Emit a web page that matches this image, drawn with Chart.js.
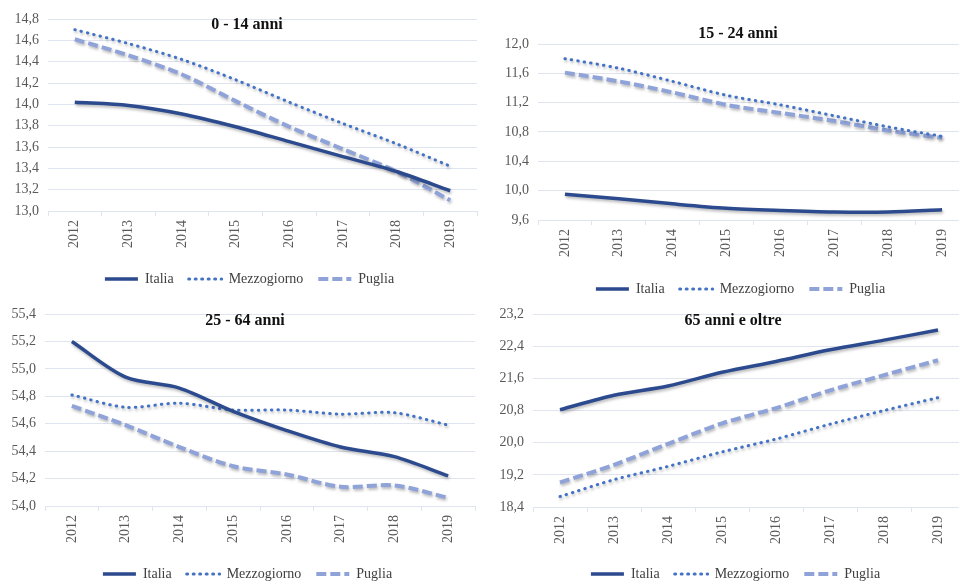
<!DOCTYPE html>
<html>
<head>
<meta charset="utf-8">
<script src="https://cdn.jsdelivr.net/npm/chart.js@4"></script>
<style>
  html, body { margin: 0; padding: 0; background: #fff; width: 959px; height: 582px; overflow: hidden; }
  .panel { position: absolute; }
</style>
</head>
<body>
<canvas id="c014" class="panel" style="left:0;top:0" width="480" height="296"></canvas>
<canvas id="c1524" class="panel" style="left:480px;top:0" width="489" height="306"></canvas>
<canvas id="c2564" class="panel" style="left:0;top:290px" width="480" height="301"></canvas>
<canvas id="c65" class="panel" style="left:480px;top:290px" width="485" height="301"></canvas>
<script>
const anni = ['2012', '2013', '2014', '2015', '2016', '2017', '2018', '2019'];
const serie = ['Italia', 'Mezzogiorno', 'Puglia'];

// 0 - 14 anni
const italia014 = [14.02, 13.99, 13.91, 13.79, 13.65, 13.51, 13.37, 13.19];
const mezzo014 = [14.70, 14.57, 14.42, 14.23, 14.02, 13.82, 13.63, 13.42];
const puglia014 = [14.61, 14.46, 14.28, 14.03, 13.79, 13.58, 13.37, 13.10];

// 15 - 24 anni
const italia1524 = [9.95, 9.89, 9.82, 9.76, 9.73, 9.71, 9.71, 9.74];
const mezzo1524 = [11.80, 11.67, 11.49, 11.30, 11.17, 11.02, 10.87, 10.74];
const puglia1524 = [11.61, 11.49, 11.34, 11.17, 11.06, 10.95, 10.82, 10.72];

// 25 - 64 anni
const italia2564 = [55.20, 54.94, 54.86, 54.69, 54.55, 54.43, 54.36, 54.22];
const mezzo2564 = [54.81, 54.72, 54.75, 54.70, 54.70, 54.67, 54.68, 54.59];
const puglia2564 = [54.73, 54.59, 54.43, 54.29, 54.23, 54.14, 54.15, 54.06];

// 65 anni e oltre
const italia65 = [20.82, 21.18, 21.41, 21.75, 22.02, 22.31, 22.55, 22.80];
const mezzo65 = [18.66, 19.08, 19.41, 19.77, 20.09, 20.46, 20.80, 21.12];
const puglia65 = [19.01, 19.45, 19.97, 20.48, 20.86, 21.30, 21.68, 22.05];

const FONT = "'Liberation Serif', 'DejaVu Serif', serif";
const GRID = '#dfe4ef';

// titolo disegnato dentro l'area del grafico, come nell'originale
const panelTitle = {
  id: 'panelTitle',
  afterDraw(chart, args, opts) {
    const ctx = chart.ctx;
    ctx.save();
    ctx.font = 'bold 16px ' + FONT;
    ctx.fillStyle = '#111';
    ctx.textAlign = 'center';
    ctx.textBaseline = 'middle';
    ctx.fillText(opts.text, opts.x, opts.y);
    ctx.restore();
  }
};

// sposta la legenda un po' a destra (nell'originale non e' centrata sul canvas)
const legendShift = {
  id: 'legendShift',
  afterLayout(chart, args, opts) {
    const lg = chart.legend;
    if (lg && opts.dx) {
      lg.left += opts.dx;
      lg.right += opts.dx;
    }
  }
};

// ombra leggera sotto le linee (effetto Excel)
const lineShadow = {
  id: 'lineShadow',
  beforeDatasetsDraw(chart) {
    const ctx = chart.ctx;
    ctx.save();
    ctx.shadowColor = 'rgba(0,0,0,0.28)';
    ctx.shadowBlur = 3;
    ctx.shadowOffsetX = 1;
    ctx.shadowOffsetY = 2;
  },
  afterDatasetsDraw(chart) {
    chart.ctx.restore();
  }
};

function makePanel(id, cfg) {
  const ctx = document.getElementById(id);
  return new Chart(ctx, {
    type: 'line',
    data: {
      labels: anni,
      datasets: [{
        label: serie[0],
        data: cfg.italia,
        borderColor: '#2c4a8e',
        backgroundColor: '#2c4a8e',
        borderWidth: 3.5,
        borderCapStyle: 'butt',
        pointRadius: 0,
        tension: 0.3
      }, {
        label: serie[1],
        data: cfg.mezzo,
        borderColor: '#4472c4',
        backgroundColor: '#4472c4',
        borderWidth: 3,
        borderDash: [0.5, 6],
        borderCapStyle: 'round',
        pointRadius: 0,
        tension: 0.3
      }, {
        label: serie[2],
        data: cfg.puglia,
        borderColor: '#8fa3d8',
        backgroundColor: '#8fa3d8',
        borderWidth: 4,
        borderDash: [10, 4],
        borderCapStyle: 'butt',
        pointRadius: 0,
        tension: 0.3
      }]
    },
    options: {
      responsive: false,
      animation: false,
      layout: {
        autoPadding: false,
        padding: { top: cfg.top, right: cfg.right, bottom: 0, left: 0 }
      },
      scales: {
        x: {
          offset: true,
          grid: { offset: true, drawOnChartArea: false, drawTicks: true, tickLength: 5, color: GRID },
          border: { color: GRID },
          ticks: {
            minRotation: 90, maxRotation: 90, padding: 4,
            color: '#595959', font: { family: FONT, size: 14 }
          },
          afterFit: s => { s.height = cfg.xHeight; }
        },
        y: {
          min: cfg.min,
          max: cfg.max,
          border: { display: false },
          grid: { color: GRID, drawTicks: false },
          ticks: {
            stepSize: cfg.step,
            padding: 9,
            color: '#595959',
            font: { family: FONT, size: 14 },
            callback: v => v.toFixed(1).replace('.', ',')
          },
          afterFit: s => { s.width = cfg.yWidth; }
        }
      },
      plugins: {
        legend: {
          position: 'bottom',
          labels: {
            boxWidth: 33,
            boxHeight: 0,
            padding: 15,
            color: '#404040',
            font: { family: FONT, size: 14 }
          }
        },
        tooltip: { enabled: false },
        panelTitle: { text: cfg.title, x: cfg.tx, y: cfg.ty },
        legendShift: { dx: cfg.legendDx }
      }
    },
    plugins: [panelTitle, legendShift, lineShadow]
  });
}

makePanel('c014', {
  title: '0 - 14 anni', tx: 247, ty: 25,
  italia: italia014, mezzo: mezzo014, puglia: puglia014,
  min: 13.0, max: 14.8, step: 0.2,
  top: 19, right: 3, yWidth: 48, xHeight: 46, legendDx: 11
});

makePanel('c1524', {
  title: '15 - 24 anni', tx: 258, ty: 34,
  italia: italia1524, mezzo: mezzo1524, puglia: puglia1524,
  min: 9.6, max: 12.0, step: 0.4,
  top: 44, right: 0, yWidth: 58, xHeight: 47, legendDx: 16
});

makePanel('c2564', {
  title: '25 - 64 anni', tx: 245, ty: 31,
  italia: italia2564, mezzo: mezzo2564, puglia: puglia2564,
  min: 54.0, max: 55.4, step: 0.2,
  top: 24, right: 5, yWidth: 45, xHeight: 46, legendDx: 10
});

makePanel('c65', {
  title: '65 anni e oltre', tx: 253, ty: 31,
  italia: italia65, mezzo: mezzo65, puglia: puglia65,
  min: 18.4, max: 23.2, step: 0.8,
  top: 24, right: 0, yWidth: 53, xHeight: 45, legendDx: 13
});
</script>
</body>
</html>
